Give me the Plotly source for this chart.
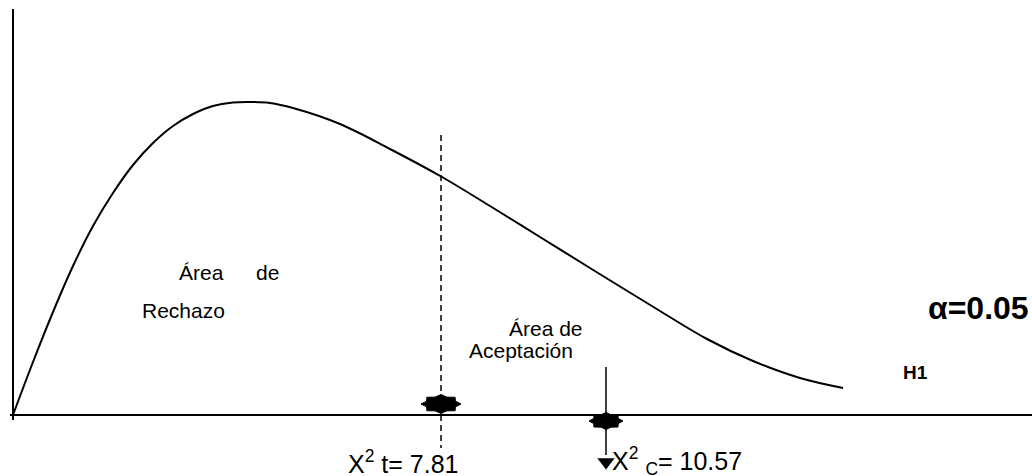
import numpy as np
import plotly.graph_objects as go

# chi-square style density sketch (x, y in drawing units, axis origin at 0,0)
curve_x = [0, 20, 40, 60, 80, 100, 120, 140, 160, 180, 200, 220, 237, 257,
           280, 327, 377, 429, 477, 527, 577, 607, 647, 694, 740, 787, 830]
curve_y = [0, 53, 103, 149, 189, 222, 250, 272, 289, 301, 309, 312.5, 313, 312,
           307, 291, 266, 238, 209, 178, 147, 128.5, 104, 76, 54, 37, 27]

x_tabla = 428      # X2 t = 7.81
x_calc = 593       # X2 c = 10.57
star_y = [11, -6]

labels_area = ["Área", "de", "Rechazo", "Área de", "Aceptación"]
label_alpha = "α=0.05"
label_h1 = "H1"
label_t = "X<sup>2</sup> t= 7.81"
label_c = "X<sup>2</sup> <sub>C</sub>= 10.57"

FONT = "Liberation Sans, Arial, sans-serif"
BLACK = "#000000"


def star_path(cx, cy, rx, ry, points=8, inner=0.78):
    ang = np.linspace(0, 2 * np.pi, 2 * points + 1)
    rad = np.where(np.arange(2 * points + 1) % 2 == 0, 1.0, inner)
    return cx + rx * rad * np.cos(ang), cy + ry * rad * np.sin(ang)


fig = go.Figure()

# axes drawn by hand
fig.add_trace(go.Scatter(x=[0, 0], y=[406, -5], mode="lines",
                         line=dict(color=BLACK, width=2), hoverinfo="skip"))
fig.add_trace(go.Scatter(x=[-3, 1019], y=[0, 0], mode="lines",
                         line=dict(color=BLACK, width=2), hoverinfo="skip"))

# density curve
fig.add_trace(go.Scatter(x=curve_x, y=curve_y, mode="lines",
                         line=dict(color=BLACK, width=2, shape="spline", smoothing=1.0),
                         hoverinfo="skip"))

# critical value (dashed) and calculated value (arrow)
fig.add_trace(go.Scatter(x=[x_tabla, x_tabla], y=[280, -33], mode="lines",
                         line=dict(color=BLACK, width=1.5, dash="6px,4px"),
                         hoverinfo="skip"))
fig.add_trace(go.Scatter(x=[x_calc, x_calc], y=[48, -40], mode="lines",
                         line=dict(color=BLACK, width=1.5), hoverinfo="skip"))
fig.add_trace(go.Scatter(x=[x_calc], y=[-47], mode="markers",
                         marker=dict(symbol="triangle-down", size=15, color=BLACK),
                         hoverinfo="skip"))

# star markers on the axis
for cx, cy, rx, ry in [(x_tabla, star_y[0], 20, 9.5), (x_calc, star_y[1], 17, 8.5)]:
    sx, sy = star_path(cx, cy, rx, ry)
    fig.add_trace(go.Scatter(x=sx, y=sy, mode="lines", fill="toself",
                             fillcolor=BLACK, line=dict(color=BLACK, width=1),
                             hoverinfo="skip"))

# text
pos_area = [(188, 143), (254, 143), (170, 105), (533, 87), (508, 65)]
for txt, (ax, ay) in zip(labels_area, pos_area):
    fig.add_annotation(x=ax, y=ay, text=txt, showarrow=False,
                       font=dict(family=FONT, size=21, color=BLACK))
fig.add_annotation(x=965, y=107, text="<b>%s</b>" % label_alpha, showarrow=False,
                   font=dict(family=FONT, size=32, color=BLACK))
fig.add_annotation(x=902, y=43, text="<b>%s</b>" % label_h1, showarrow=False,
                   font=dict(family=FONT, size=19, color=BLACK))
fig.add_annotation(x=390, y=-47, text=label_t, showarrow=False,
                   font=dict(family=FONT, size=25, color=BLACK))
fig.add_annotation(x=664, y=-46, text=label_c, showarrow=False,
                   font=dict(family=FONT, size=25, color=BLACK))

fig.update_layout(
    width=1032, height=476,
    margin=dict(l=0, r=0, t=0, b=0),
    paper_bgcolor="white", plot_bgcolor="white",
    showlegend=False,
    xaxis=dict(range=[-13, 1019], visible=False, fixedrange=True),
    yaxis=dict(range=[-61, 415], visible=False, fixedrange=True),
)

# page body has a default 8px margin; drop it so the figure sits at the corner
fig.write_html(
    "out.html",
    config={"displayModeBar": False},
    post_script="document.body.style.margin='0px';document.body.style.overflow='hidden';",
)
